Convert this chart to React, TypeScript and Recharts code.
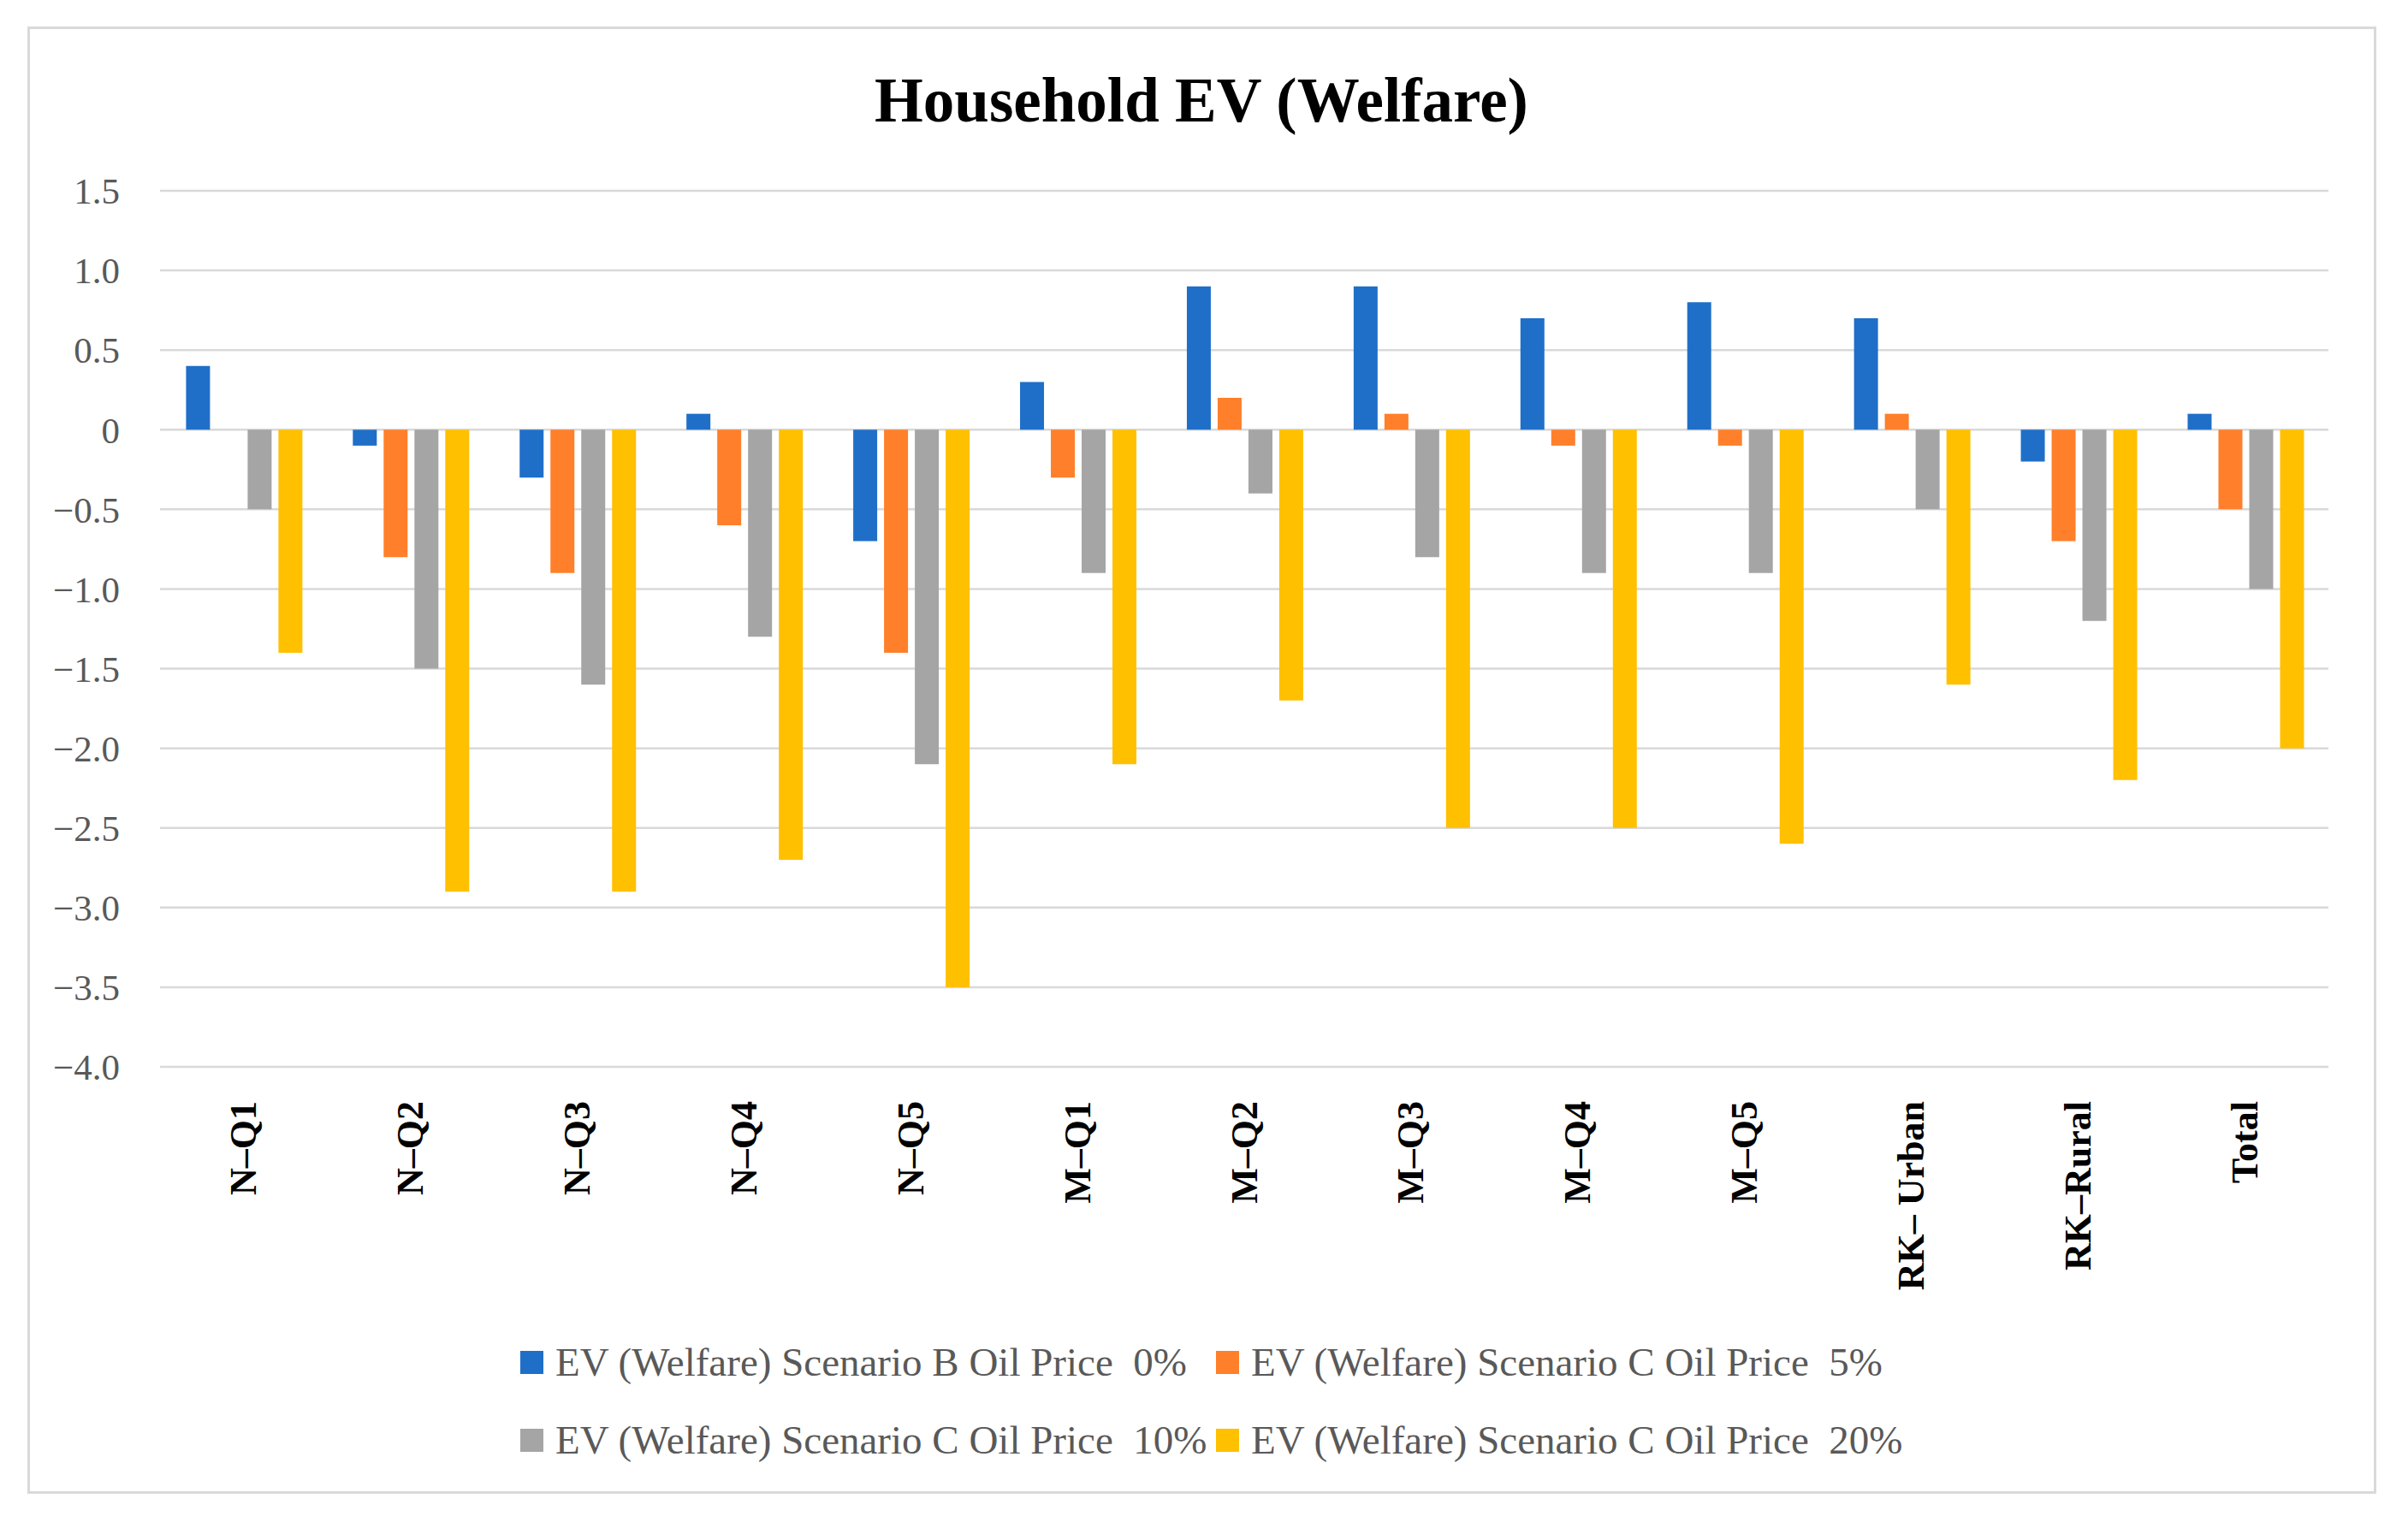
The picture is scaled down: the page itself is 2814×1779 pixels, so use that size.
import React from "react";
import { BarChart, Bar, XAxis, YAxis, CartesianGrid, Legend } from "recharts";

const categories = ["N–Q1", "N–Q2", "N–Q3", "N–Q4", "N–Q5", "M–Q1", "M–Q2", "M–Q3", "M–Q4", "M–Q5", "RK– Urban", "RK–Rural", "Total"];
const scenarioB0 = [0.4, -0.1, -0.3, 0.1, -0.7, 0.3, 0.9, 0.9, 0.7, 0.8, 0.7, -0.2, 0.1];
const scenarioC5 = [0, -0.8, -0.9, -0.6, -1.4, -0.3, 0.2, 0.1, -0.1, -0.1, 0.1, -0.7, -0.5];
const scenarioC10 = [-0.5, -1.5, -1.6, -1.3, -2.1, -0.9, -0.4, -0.8, -0.9, -0.9, -0.5, -1.2, -1.0];
const scenarioC20 = [-1.4, -2.9, -2.9, -2.7, -3.5, -2.1, -1.7, -2.5, -2.5, -2.6, -1.6, -2.2, -2.0];
const yTicks = [-4, -3.5, -3, -2.5, -2, -1.5, -1, -0.5, 0, 0.5, 1, 1.5];

const seriesNames = [
  "EV (Welfare) Scenario B Oil Price  0%",
  "EV (Welfare) Scenario C Oil Price  5%",
  "EV (Welfare) Scenario C Oil Price  10%",
  "EV (Welfare) Scenario C Oil Price  20%",
];
const colors = ["#1F6FC8", "#FF7F2A", "#A5A5A5", "#FFC000"];
const keys = ["b0", "c5", "c10", "c20"];

const data = categories.map((name, i) => ({
  name,
  b0: scenarioB0[i],
  c5: scenarioC5[i],
  c10: scenarioC10[i],
  c20: scenarioC20[i],
}));

const FONT = "'Liberation Serif', serif";

const fmtY = (v: number) => (v === 0 ? "0" : v.toFixed(1).replace("-", "\u2212"));

const XTick = (props: any) => {
  const { x, y, payload } = props;
  return (
    <g transform={`translate(${x},${y + 40}) rotate(-90)`}>
      <text x={0} y={0} textAnchor="end" dominantBaseline="central" fontFamily={FONT} fontWeight="bold" fontSize={44} fill="#000">
        {payload.value}
      </text>
    </g>
  );
};

const LegendContent = () => (
  <div style={{ position: "relative", width: 2814, height: 200, fontFamily: FONT, fontSize: 47, color: "#595959" }}>
    {seriesNames.map((n, i) => {
      const col = i % 2;
      const row = Math.floor(i / 2);
      const left = col === 0 ? 608 : 1421;
      const center = row === 0 ? 32 : 123;
      return (
        <div key={n} style={{ position: "absolute", left, top: center - 30, height: 60, display: "flex", alignItems: "center", whiteSpace: "pre" }}>
          <span style={{ display: "inline-block", width: 27, height: 27, background: colors[i], marginRight: 14 }} />
          <span>{n}</span>
        </div>
      );
    })}
  </div>
);

export default function App() {
  return (
    <div style={{ position: "absolute", left: 0, top: 0, width: 2814, height: 1779, background: "#fff" }}>
      <div style={{ position: "absolute", left: 32, top: 31, width: 2745, height: 1715, border: "3px solid #D9D9D9", boxSizing: "border-box" }} />
      <div style={{ position: "absolute", left: 0, top: 118 - 45, width: 2808, height: 90, lineHeight: "90px", textAlign: "center", fontFamily: FONT, fontWeight: "bold", fontSize: 73, color: "#000" }}>
        Household EV (Welfare)
      </div>
      <div style={{ position: "absolute", left: 0, top: 0 }}>
        <BarChart width={2814} height={1779} data={data} margin={{ top: 223, right: 93, left: 0, bottom: 232 }} barCategoryGap="15.6%" barGap={8}>
          <CartesianGrid vertical={false} stroke="#D9D9D9" strokeWidth={2.5} />
          <XAxis dataKey="name" axisLine={false} tickLine={false} tickSize={0} tickMargin={0} height={300} interval={0} tick={<XTick />} />
          <YAxis
            width={187}
            domain={[-4, 1.5]}
            ticks={yTicks}
            interval={0}
            axisLine={false}
            tickLine={false}
            tickSize={0}
            tickMargin={47}
            tickFormatter={fmtY}
            tick={{ fontFamily: FONT, fontSize: 43, fill: "#595959" }}
          />
          <Legend layout="horizontal" verticalAlign="middle" align="center" content={<LegendContent />} wrapperStyle={{ top: 1560, left: 0, width: 2814 }} />
          {keys.map((k, i) => (
            <Bar key={k} dataKey={k} name={seriesNames[i]} fill={colors[i]} isAnimationActive={false} />
          ))}
        </BarChart>
      </div>
    </div>
  );
}
